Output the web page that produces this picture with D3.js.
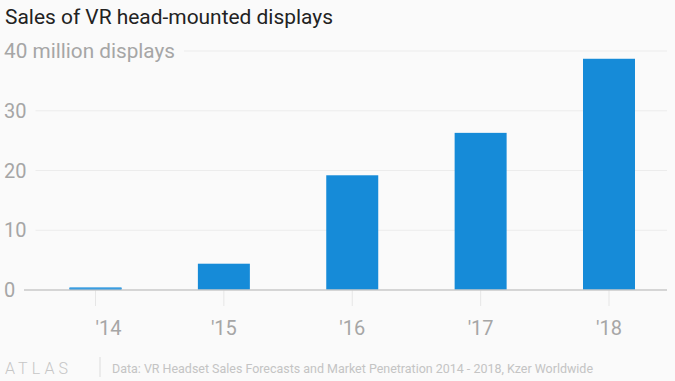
<!DOCTYPE html>
<html>
<head>
<meta charset="utf-8">
<script src="https://cdn.jsdelivr.net/npm/d3@7"></script>
<style>
html,body{margin:0;padding:0;background:#fafafa;}
svg{display:block;}
text{font-family:Roboto,"Noto Sans",sans-serif;}
</style>
</head>
<body>
<svg id="chart" width="675" height="381"></svg>
<script>
const categories = ["'14", "'15", "'16", "'17", "'18"];
const values = [0.4, 4.4, 19.2, 26.3, 38.7];
const yTicks = [0, 10, 20, 30, 40];
const title = "Sales of VR head-mounted displays";
const unitLabel = "million displays";
const source = "Data: VR Headset Sales Forecasts and Market Penetration 2014 - 2018, Kzer Worldwide";

const svg = d3.select("#chart");
svg.append("rect").attr("width", 675).attr("height", 381).attr("fill", "#fafafa");

const y = d3.scaleLinear().domain([0, 40]).range([290, 51]);
const x = d3.scalePoint().domain(categories).range([95.5, 609]);
const bw = x.step() * 0.405;

// title
svg.append("text").attr("x", 5).attr("y", 24).attr("font-size", 20)
  .attr("fill", "#222").attr("textLength", 328).attr("lengthAdjust", "spacingAndGlyphs").text(title);

// gridlines and y labels
const gy = svg.append("g");
yTicks.forEach(t => {
  const lab = t === 40 ? t + " " + unitLabel : String(t);
  const txt = gy.append("text").attr("x", 4).attr("y", y(t)).attr("dy", "0.36em")
    .attr("font-size", 20).attr("fill", "#a6a6a6").text(lab);
  if (t === 40) txt.attr("textLength", 171).attr("lengthAdjust", "spacingAndGlyphs");
  const w = t === 40 ? 171 : txt.node().getComputedTextLength();
  if (t !== 0) {
    gy.append("line").attr("x1", 4 + w + 9).attr("x2", 667)
      .attr("y1", y(t)).attr("y2", y(t)).attr("stroke", "#ececec").attr("stroke-width", 1);
  }
});

// x ticks
categories.forEach(c => {
  svg.append("line").attr("x1", x(c)).attr("x2", x(c)).attr("y1", y(0)).attr("y2", 306)
    .attr("stroke", "#e6e6e6").attr("stroke-width", 1);
});

// bars
svg.append("g").selectAll("rect").data(values).join("rect")
  .attr("x", (d, i) => x(categories[i]) - bw / 2)
  .attr("width", bw)
  .attr("y", d => y(d))
  .attr("height", d => y(0) - y(d))
  .attr("fill", "#168bd8");

// baseline
svg.append("line").attr("x1", 24).attr("x2", 667).attr("y1", y(0)).attr("y2", y(0))
  .attr("stroke", "#c8c8c8").attr("stroke-width", 1.5);
// redraw thin first bar above baseline
svg.append("rect").attr("x", x(categories[0]) - bw / 2).attr("width", bw)
  .attr("y", y(values[0])).attr("height", y(0) - y(values[0]) - 0.75).attr("fill", "#3a9de0");

// x labels
categories.forEach((c, i) => {
  svg.append("text").attr("x", x(c))
    .attr("y", 335).attr("font-size", 20)
    .attr("fill", "#a6a6a6")
    .attr("text-anchor", i === 0 ? "start" : "middle").text(c);
});

// footer
svg.append("text").attr("x", 5).attr("y", 374).attr("font-size", 16).attr("font-weight", 300)
  .attr("fill", "#c6c6c6").attr("textLength", 63).attr("lengthAdjust", "spacing").text("ATLAS");
svg.append("line").attr("x1", 100).attr("x2", 100).attr("y1", 357).attr("y2", 377)
  .attr("stroke", "#dcdcdc").attr("stroke-width", 1);
svg.append("text").attr("x", 112).attr("y", 373).attr("font-size", 13.5)
  .attr("fill", "#c4c4c4").attr("textLength", 481).attr("lengthAdjust", "spacingAndGlyphs")
  .text(source);
</script>
</body>
</html>
